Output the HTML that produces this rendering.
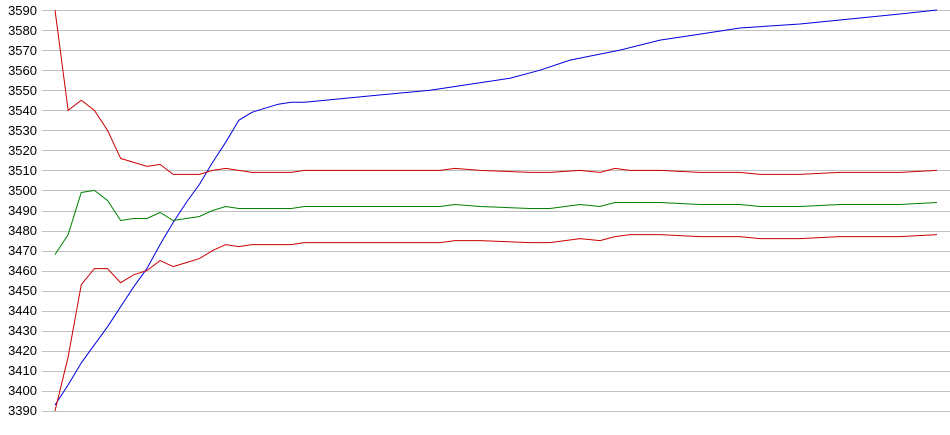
<!DOCTYPE html>
<html><head><meta charset="utf-8"><style>
html,body{margin:0;padding:0;background:#fff;}
svg{display:block;}
text{font-family:"Liberation Sans",Arial,sans-serif;font-size:13px;fill:#000;}
</style></head><body>
<svg id="s" width="950" height="435" xmlns="http://www.w3.org/2000/svg">
<g id="grid" stroke="#c0c0c0" stroke-width="1"></g>
<g text-anchor="end">
<text x="37" y="15">3590</text><text x="37" y="35">3580</text><text x="37" y="55">3570</text><text x="37" y="75">3560</text><text x="37" y="95">3550</text><text x="37" y="115">3540</text><text x="37" y="135">3530</text><text x="37" y="155">3520</text><text x="37" y="175">3510</text><text x="37" y="195">3500</text><text x="37" y="215">3490</text><text x="37" y="235">3480</text><text x="37" y="255">3470</text><text x="37" y="275">3460</text><text x="37" y="295">3450</text><text x="37" y="315">3440</text><text x="37" y="335">3430</text><text x="37" y="355">3420</text><text x="37" y="375">3410</text><text x="37" y="395">3400</text><text x="37" y="415">3390</text>
</g>
<polyline id="b" fill="none" stroke="#0000e0" stroke-width="1"/>
<polyline id="r1" fill="none" stroke="#cc0000" stroke-width="1"/>
<polyline id="g" fill="none" stroke="#008000" stroke-width="1"/>
<polyline id="r2" fill="none" stroke="#cc0000" stroke-width="1"/>
</svg>
<script>
function Y(v){return 10+(3590-v)*2.005;}
var g=document.getElementById('grid'),h='';
for(var i=0;i<=20;i++){var y=Math.round(Y(3590-i*10))+0.5;h+='<line x1="42" x2="950" y1="'+y+'" y2="'+y+'"/>';}
g.innerHTML=h;
function pts(arr){return arr.map(function(p){return p[0]+','+Y(p[1]).toFixed(1);}).join(' ');}
var X=function(i){return 55+i*13.13;};
function fromList(list,tail){var a=list.map(function(v,i){return [X(i),v];});
 return a.concat(tail);}
var b=fromList([3393,3403,3414,3423,3432,3442,3452,3461,3473,3484,3494,3503,3514,3524,3535,3539,3541,3543,3544,3544],
 [[430,3550],[510,3556],[540,3560],[570,3565],[620,3570],[660,3575],[700,3578],[740,3581],[800,3583],[860,3586],[900,3588],[937,3590]]);
var r1=fromList([3590,3540,3545,3540,3530,3516,3514,3512,3513,3508,3508,3508,3510,3511,3510,3509,3509,3509,3509,3510],
 [[420,3510],[440,3510],[455,3511],[480,3510],[530,3509],[550,3509],[580,3510],[600,3509],[615,3511],[630,3510],[660,3510],[700,3509],[740,3509],[760,3508],[800,3508],[840,3509],[900,3509],[937,3510]]);
var gg=fromList([3468,3478,3499,3500,3495,3485,3486,3486,3489,3485,3486,3487,3490,3492,3491,3491,3491,3491,3491,3492],
 [[420,3492],[440,3492],[455,3493],[480,3492],[530,3491],[550,3491],[580,3493],[600,3492],[615,3494],[660,3494],[700,3493],[740,3493],[760,3492],[800,3492],[840,3493],[900,3493],[937,3494]]);
var r2=fromList([3390,3417,3453,3461,3461,3454,3458,3460,3465,3462,3464,3466,3470,3473,3472,3473,3473,3473,3473,3474],
 [[420,3474],[440,3474],[455,3475],[480,3475],[530,3474],[550,3474],[580,3476],[600,3475],[615,3477],[630,3478],[660,3478],[700,3477],[740,3477],[760,3476],[800,3476],[840,3477],[900,3477],[937,3478]]);
document.getElementById('b').setAttribute('points',pts(b));
document.getElementById('r1').setAttribute('points',pts(r1));
document.getElementById('g').setAttribute('points',pts(gg));
document.getElementById('r2').setAttribute('points',pts(r2));
</script>
</body></html>
